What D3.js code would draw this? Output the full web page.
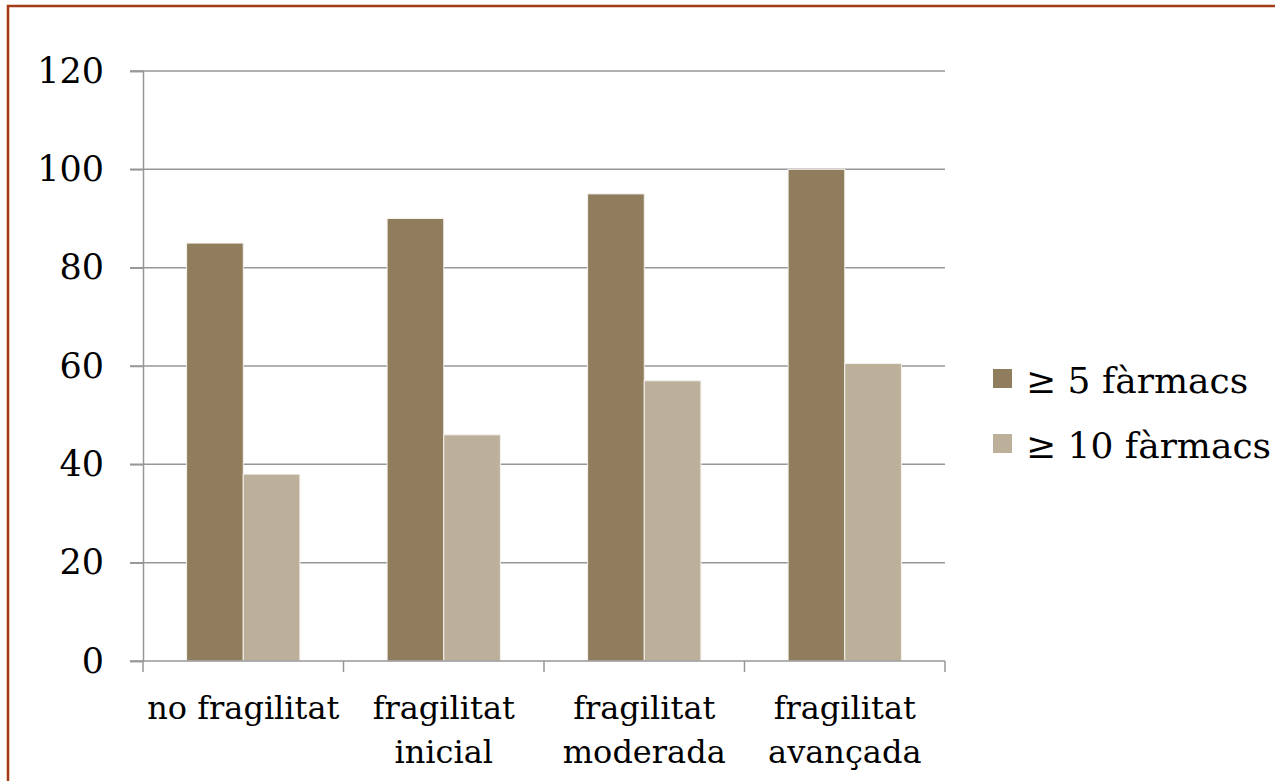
<!DOCTYPE html>
<html>
<head>
<meta charset="utf-8">
<script src="https://cdn.jsdelivr.net/npm/d3@7"></script>
<style>
  html, body { margin: 0; padding: 0; background: #fff; }
  svg { display: block; }
  text { font-family: "DejaVu Serif", "Liberation Serif", serif; fill: #000; }
</style>
</head>
<body>
<svg id="chart" width="1275" height="781"></svg>
<script>
// Percentage of patients with polypharmacy by frailty level
const categories = [["no fragilitat"], ["fragilitat", "inicial"], ["fragilitat", "moderada"], ["fragilitat", "avançada"]];
const seriesNames = ["\u2265 5 fàrmacs", "\u2265 10 fàrmacs"];
const fivePlus = [85, 90, 95, 100];
const tenPlus = [38, 46, 57, 60.5];
const yTicks = [0, 20, 40, 60, 80, 100, 120];
const colors = ["#8f7d5d", "#bdb09b"];

const svg = d3.select("#chart");

// Frame around the slide
svg.append("rect")
  .attr("x", 8).attr("y", 6)
  .attr("width", 1275).attr("height", 800)
  .attr("fill", "none")
  .attr("stroke", "#a53a17")
  .attr("stroke-width", 2.5);

const plot = { left: 143, right: 945, top: 71, bottom: 661 };

const x0 = d3.scaleBand()
  .domain(d3.range(categories.length))
  .range([plot.left, plot.right])
  .paddingInner(0).paddingOuter(0);

const x1 = d3.scaleBand()
  .domain([0, 1])
  .range([0, x0.bandwidth()])
  .paddingInner(0)
  .paddingOuter(0.77);

const y = d3.scaleLinear().domain([0, 120]).range([plot.bottom, plot.top]);

// Gridlines
svg.append("g")
  .selectAll("line")
  .data(yTicks.filter(t => t > 0))
  .join("line")
  .attr("x1", plot.left - 13).attr("x2", plot.right)
  .attr("y1", d => y(d)).attr("y2", d => y(d))
  .attr("stroke", "#979797").attr("stroke-width", 1.5);

// Bars
const data = categories.map((c, i) => [fivePlus[i], tenPlus[i]]);
const groups = svg.append("g").selectAll("g")
  .data(data)
  .join("g")
  .attr("transform", (d, i) => `translate(${x0(i)},0)`);

groups.selectAll("rect")
  .data(d => d)
  .join("rect")
  .attr("x", (d, j) => x1(j))
  .attr("width", x1.bandwidth())
  .attr("y", d => y(d))
  .attr("height", d => y(0) - y(d))
  .attr("fill", (d, j) => colors[j])
  .attr("stroke", "#f4f1ec")
  .attr("stroke-width", 1);

// Y axis
const yAxis = d3.axisLeft(y).tickValues(yTicks).tickSize(13).tickPadding(26);
const gy = svg.append("g").attr("transform", `translate(${plot.left},0)`).call(yAxis);
gy.select(".domain").attr("stroke", "#979797").attr("stroke-width", 1.5);
gy.selectAll(".tick line").attr("stroke", "#979797").attr("stroke-width", 1.5);
gy.selectAll(".tick text")
  .style("font-family", "'DejaVu Serif', serif")
  .style("font-size", "35px")
  .attr("fill", "#000");

// X axis line with category boundary ticks
svg.append("line")
  .attr("x1", plot.left - 13).attr("x2", plot.right)
  .attr("y1", y(0)).attr("y2", y(0))
  .attr("stroke", "#979797").attr("stroke-width", 1.5);
svg.append("g").selectAll("line")
  .data(d3.range(categories.length + 1))
  .join("line")
  .attr("x1", i => i < categories.length ? x0(i) : plot.right)
  .attr("x2", i => i < categories.length ? x0(i) : plot.right)
  .attr("y1", y(0)).attr("y2", y(0) + 11)
  .attr("stroke", "#979797").attr("stroke-width", 1.5);

// Category labels
const catLabels = svg.append("g").selectAll("text")
  .data(categories)
  .join("text")
  .attr("x", (d, i) => x0(i) + x0.bandwidth() / 2)
  .attr("y", 719)
  .attr("text-anchor", "middle")
  .style("font-size", "32px");
catLabels.selectAll("tspan")
  .data(d => d)
  .join("tspan")
  .attr("x", function () { return d3.select(this.parentNode).attr("x"); })
  .attr("dy", (d, k) => k === 0 ? 0 : 44)
  .text(d => d);

// Legend
const legend = svg.append("g").selectAll("g")
  .data(seriesNames)
  .join("g")
  .attr("transform", (d, i) => `translate(993,${369 + i * 65})`);
legend.append("rect")
  .attr("width", 19).attr("height", 19)
  .attr("fill", (d, i) => colors[i]);
legend.append("text")
  .attr("x", 33).attr("y", 24)
  .style("font-size", "36px")
  .text(d => d);
</script>
</body>
</html>
